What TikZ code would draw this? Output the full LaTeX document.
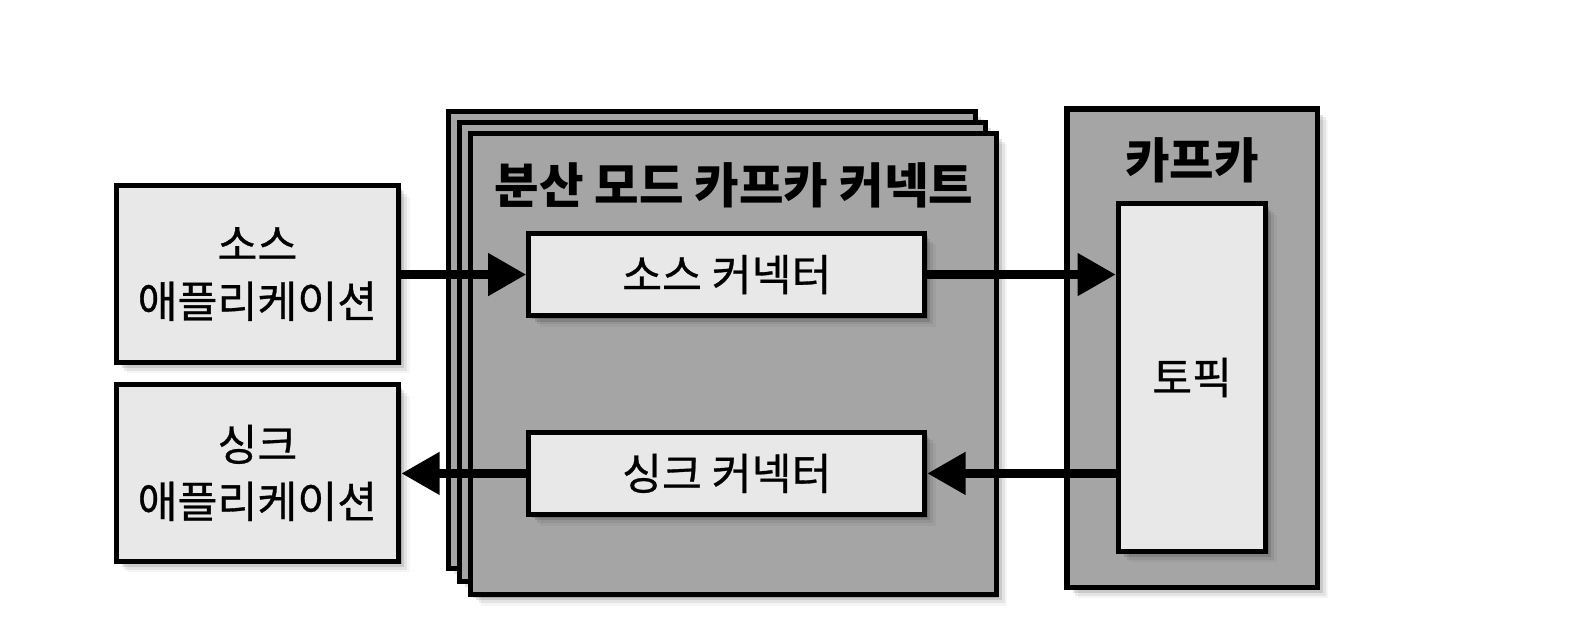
\documentclass[tikz,border=0pt]{standalone}
\usepackage{fontspec}
\setmainfont{Noto Sans CJK KR}
\newfontfamily\medfont[FakeBold=0.7]{Noto Sans CJK KR}
\usetikzlibrary{arrows.meta,shadows}
\definecolor{dgray}{HTML}{A5A5A5}
\definecolor{lgray}{HTML}{E8E8E8}
\newlength\pxu
\setlength\pxu{0.50478pt}
\tikzset{
  softshadow/.style={
    drop shadow={shadow xshift=1.5pt,shadow yshift=-1.5pt,opacity=.16,fill=black},
    drop shadow={shadow xshift=2.8pt,shadow yshift=-2.8pt,opacity=.11,fill=black},
    drop shadow={shadow xshift=4.2pt,shadow yshift=-4.2pt,opacity=.07,fill=black},
    drop shadow={shadow xshift=5.5pt,shadow yshift=-5.5pt,opacity=.04,fill=black}},
  box/.style={draw=black,line width=5\pxu,rectangle,inner sep=0pt,softshadow},
  lightbox/.style={box,fill=lgray,font=\medfont\fontsize{21.7pt}{28.5pt}\selectfont,align=center},
  darkbox/.style={box,fill=dgray},
  titletext/.style={font=\bfseries\fontsize{24.2pt}{28pt}\selectfont,inner sep=0pt},
  arr/.style={line width=9.5\pxu,-{Triangle[length=19.2pt,width=20.2pt]}},
}
\begin{document}
\begin{tikzpicture}[x=\pxu,y=-\pxu]
\useasboundingbox (0,0) rectangle (1567.2,637.9);
\fill[white] (0,0) rectangle (1567.2,637.9);
% stacked connect boxes
\node[darkbox,minimum width=522\pxu,minimum height=453\pxu] (stackc) at (705,336.5) {};
\node[darkbox,minimum width=521\pxu,minimum height=455\pxu] (stackb) at (715.5,348.5) {};
\node[darkbox,minimum width=521\pxu,minimum height=457\pxu] (stacka) at (726.5,360.5) {};
\node[titletext] (stacktitle) at (727,184) {분산 모드 카프카 커넥트};
% kafka
\node[darkbox,minimum width=248\pxu,minimum height=474\pxu] (kafka) at (1181,345) {};
\node[titletext] (kafkatitle) at (1181,159) {카프카};
\node[lightbox,minimum width=146\pxu,minimum height=344\pxu] (topic) at (1181,374) {토픽};
% connectors
\node[lightbox,minimum width=392\pxu,minimum height=82\pxu] (srccon) at (720,272) {소스 커넥터};
\node[lightbox,minimum width=392\pxu,minimum height=82\pxu] (sinkcon) at (720,469) {싱크 커넥터};
% applications
\node[lightbox,minimum width=280\pxu,minimum height=175\pxu] (srcapp) at (255,271.5) {소스\\애플리케이션};
\node[lightbox,minimum width=280\pxu,minimum height=175\pxu] (sinkapp) at (255,468.5) {싱크\\애플리케이션};
% arrows
\draw[arr] (srcapp.east |- srccon.west) -- (srccon.west);
\draw[arr] (srccon.east) -- (topic.west |- srccon.east);
\draw[arr] (topic.west |- sinkcon.east) -- (sinkcon.east);
\draw[arr] (sinkcon.west) -- (sinkapp.east |- sinkcon.west);
\end{tikzpicture}
\end{document}
